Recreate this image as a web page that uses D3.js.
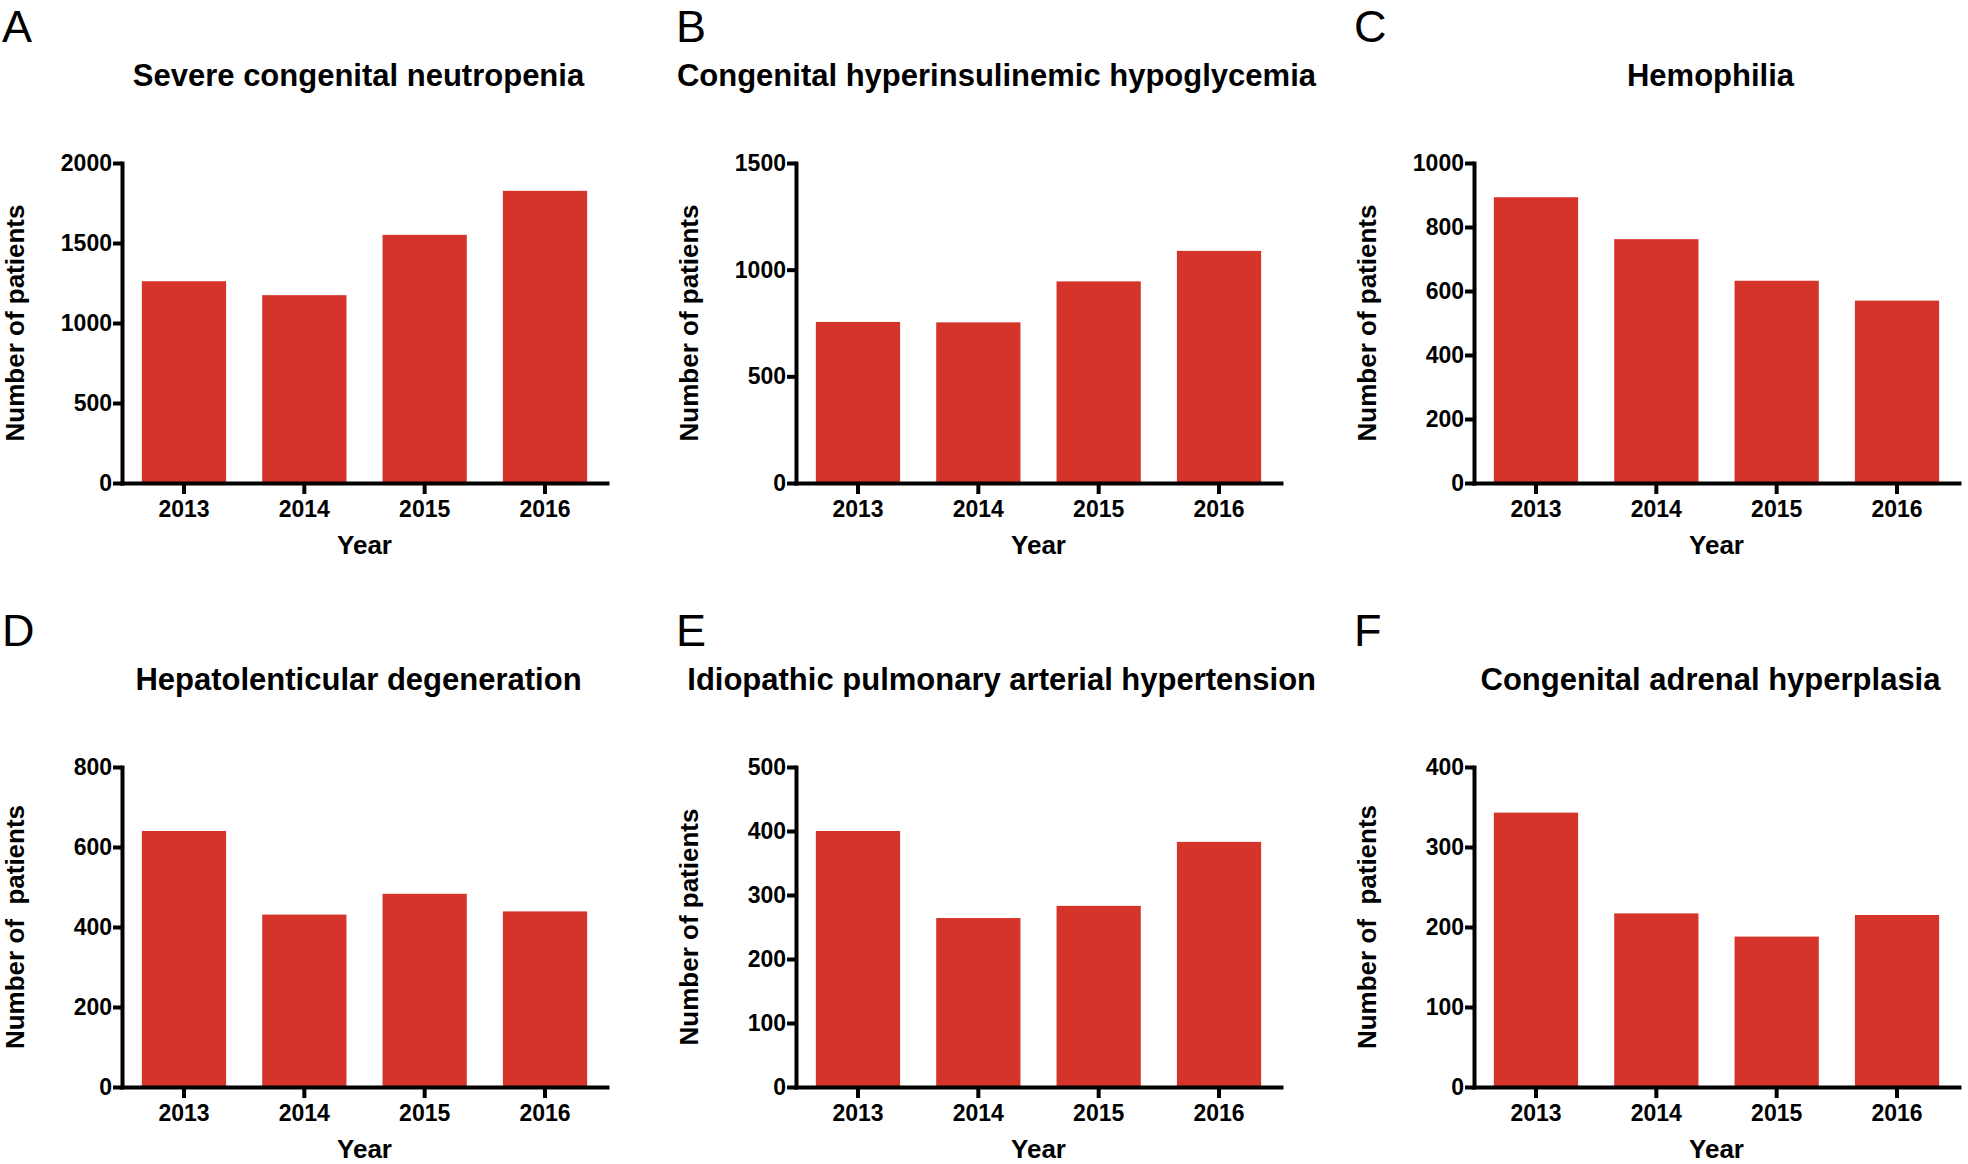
<!DOCTYPE html>
<html>
<head>
<meta charset="utf-8">
<script src="https://d3js.org/d3.v7.min.js"></script>
<style>
  body { margin: 0; background: #fff; }
  text { font-family: "Liberation Sans", Arial, Helvetica, sans-serif; fill: #000; white-space: pre; }
  .bold { font-weight: bold; }
</style>
</head>
<body>
<div id="chart"></div>

<script>
// data
const years = ["2013", "2014", "2015", "2016"];

const letters = ["A", "B", "C", "D", "E", "F"];
const titles = [
  "Severe congenital neutropenia",
  "Congenital hyperinsulinemic hypoglycemia",
  "Hemophilia",
  "Hepatolenticular degeneration",
  "Idiopathic pulmonary arterial hypertension",
  "Congenital adrenal hyperplasia"
];
const yLabels = [
  "Number of patients", "Number of patients", "Number of patients",
  "Number of  patients", "Number of patients", "Number of  patients"
];

const neutropenia     = [1261, 1174, 1551, 1826];
const hyperinsulinism = [755, 753, 945, 1088];
const hemophilia      = [893, 762, 632, 570];
const wilson          = [640, 431, 483, 439];
const pah             = [400, 264, 283, 383];
const cah             = [343, 217, 188, 215];
const seriesValues = [neutropenia, hyperinsulinism, hemophilia, wilson, pah, cah];

const yTicks = [
  [0, 500, 1000, 1500, 2000],
  [0, 500, 1000, 1500],
  [0, 200, 400, 600, 800, 1000],
  [0, 200, 400, 600, 800],
  [0, 100, 200, 300, 400, 500],
  [0, 100, 200, 300, 400]
];

const width = 1968, height = 1164;
const colX = [0, 674, 1352];
const rowY = [0, 604];
const plot = {left: 122, right: 607, top: 163, bottom: 483};
const barColor = "#d5342b";

const svg = d3.select("#chart")
  .append("svg")
    .attr("width", width)
    .attr("height", height);

titles.forEach(function(title, i) {
  const g = svg.append("g")
    .attr("transform", `translate(${colX[i % 3]}, ${rowY[Math.floor(i / 3)]})`);

  const ticks = yTicks[i];
  const x = d3.scaleBand()
    .domain(years)
    .range([plot.left, plot.right])
    .paddingInner(0.3)
    .paddingOuter(0.165);

  const y = d3.scaleLinear()
    .domain([0, ticks[ticks.length - 1]])
    .range([plot.bottom, plot.top]);

  g.selectAll("rect")
    .data(seriesValues[i])
    .join("rect")
      .attr("x", (d, j) => x(years[j]))
      .attr("y", d => y(d))
      .attr("width", x.bandwidth())
      .attr("height", d => y(0) - y(d))
      .attr("fill", barColor);

  // y axis
  const yAxis = g.append("g")
    .attr("transform", `translate(${plot.left}, 0)`)
    .call(d3.axisLeft(y).tickValues(ticks).tickFormat(d3.format("d"))
      .tickSize(9).tickSizeOuter(0).tickPadding(1));

  // x axis
  const xAxis = g.append("g")
    .attr("transform", `translate(0, ${plot.bottom})`)
    .call(d3.axisBottom(x).tickSize(11).tickSizeOuter(0).tickPadding(7));

  [yAxis, xAxis].forEach(function(ax) {
    ax.select(".domain").attr("stroke", "#000").attr("stroke-width", 4)
      .attr("stroke-linecap", "square");
    ax.selectAll(".tick line").attr("stroke", "#000").attr("stroke-width", 4);
    ax.selectAll(".tick text")
      .attr("class", "bold")
      .style("font-size", "23px")
      .style("font-family", "'Liberation Sans', Arial, sans-serif")
      .attr("fill", "#000");
  });

  // panel letter
  g.append("text")
    .attr("x", 2)
    .attr("y", 42)
    .style("font-size", "45px")
    .text(letters[i]);

  // title, centred on plot; long ones pushed left so they end near the panel edge
  const t = g.append("text")
    .attr("class", "bold")
    .attr("y", 86)
    .style("font-size", "31px")
    .text(title);
  const tw = t.node().getComputedTextLength();
  const cx = Math.min((plot.left + plot.right) / 2 - 6, 642 - tw / 2);
  t.attr("x", cx - tw / 2);

  // y label
  g.append("text")
    .attr("class", "bold")
    .attr("transform", `translate(24, ${(plot.top + plot.bottom) / 2}) rotate(-90)`)
    .attr("text-anchor", "middle")
    .style("font-size", "26px")
    .text(yLabels[i]);

  // x label
  g.append("text")
    .attr("class", "bold")
    .attr("x", (plot.left + plot.right) / 2)
    .attr("y", 554)
    .attr("text-anchor", "middle")
    .style("font-size", "26px")
    .text("Year");
});
</script>
</body>
</html>
